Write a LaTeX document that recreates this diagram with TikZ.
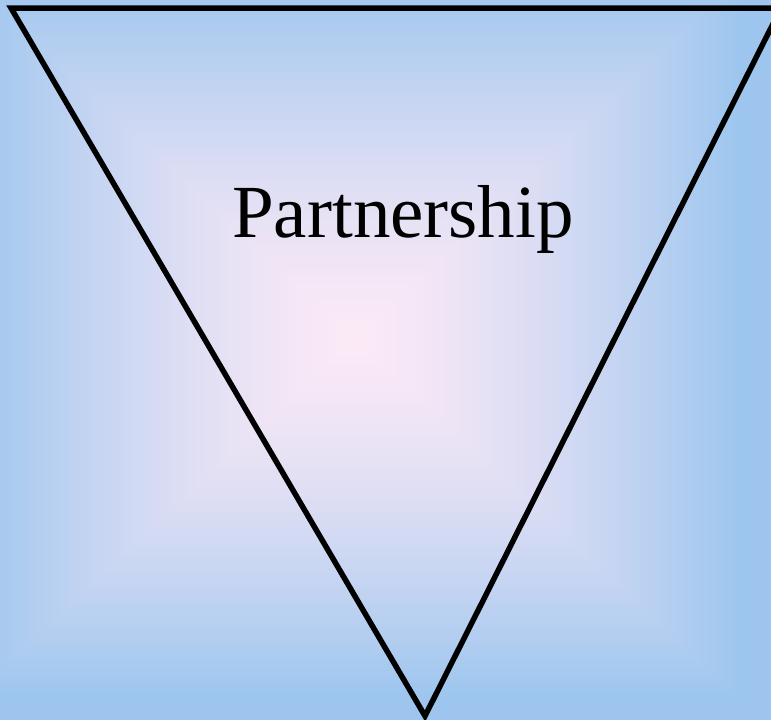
\documentclass[tikz,border=0pt]{standalone}
\usepackage{fontspec}
\setmainfont{Liberation Serif}
\usepackage{tikz}
\usetikzlibrary{calc}
% rectangular glow: pink in the middle, blue at the edges
\pgfdeclarefunctionalshading{rectglow}{\pgfpoint{0bp}{0bp}}{\pgfpoint{100bp}{100bp}}{}{
	51.5 sub abs 25 div
	exch 48 sub abs 25 div
	2 copy lt {exch} if pop
	dup 1 gt {pop 1} if
	1.4 exp
	dup -0.37 mul 0.984 add
	exch dup -0.14 mul 0.914 add
	exch -0.03 mul 0.965 add
}
\tikzset{
	edge/.style={line width=5.5pt, line join=miter},
	title/.style={font=\fontsize{75}{80}\selectfont, anchor=base, inner sep=0pt}
}
\begin{document}
\begin{tikzpicture}[x=1pt, y=-1pt]
	% Background
	\useasboundingbox (0,0) rectangle (771,720);
	\shade[shading=rectglow] (0,0) rectangle (771,720);
	
	\coordinate (tl) at (11, 8);
	\coordinate (tr) at (781, 8);
	\coordinate (bot) at (425, 716);
	
	\begin{scope}
		\clip (0,0) rectangle (771,720);
		\draw[edge] (tl) -- (tr) -- (bot) -- cycle;
	\end{scope}
	\node[title] (name) at (403, 237) {Partnership};
\end{tikzpicture}
\end{document}
